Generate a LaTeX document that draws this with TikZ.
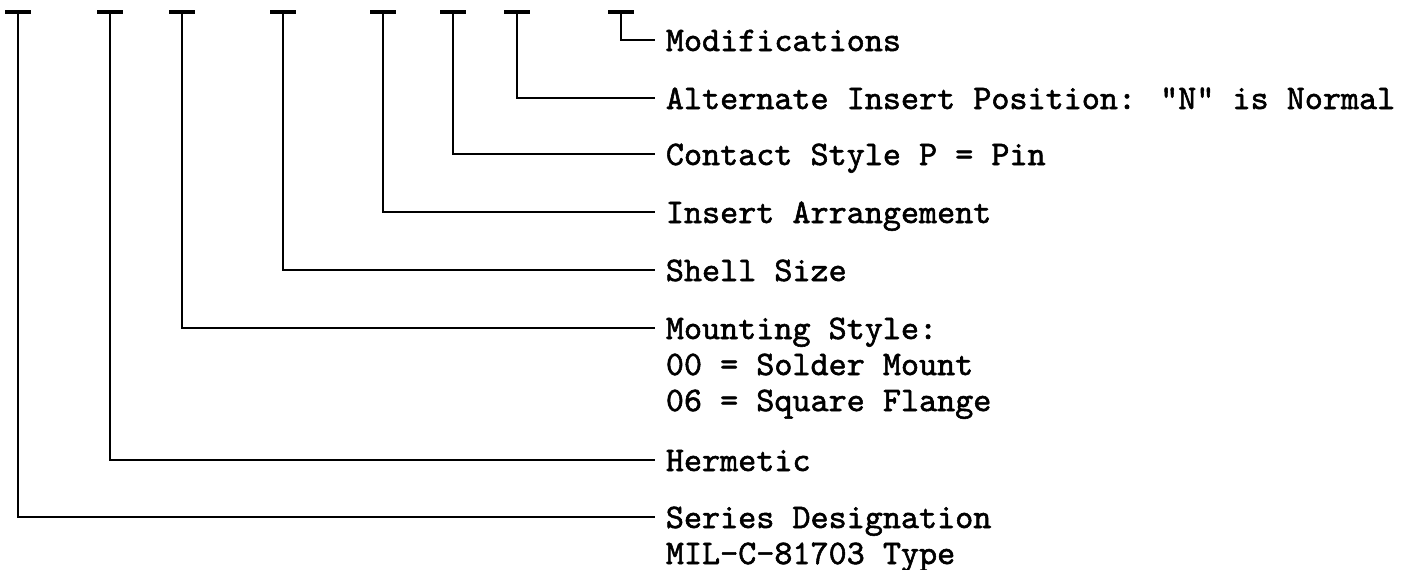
\documentclass[tikz,border=0pt]{standalone}
\usepackage{fontspec}
\usetikzlibrary{calc}
\newfontfamily\codefont[FakeBold=1.6]{lmmono10-regular.otf}
\tikzset{
  tick/.style={line width=2.2pt},
  lead/.style={line width=0.9pt},
  desc/.style={anchor=base west, inner xsep=6pt, inner ysep=0pt,
      font=\codefont\fontsize{19.6}{20.5}\selectfont},
}

\begin{document}
\begin{tikzpicture}[x=0.2mm, y=-0.2mm]
  \useasboundingbox (0,0) rectangle (1404,569);
  % part number fields, text baseline 11px below the lead
  \node[desc] (mod) at (655,51) {Modifications};
  \node[desc] (alt) at (655,109) {Alternate Insert Position: ”N” is Normal};
  \node[desc] (con) at (655,165) {Contact Style P = Pin};
  \node[desc] (ins) at (655,223) {Insert Arrangement};
  \node[desc] (shl) at (655,281) {Shell Size};
  \node[desc] (mnt) at (655,339) {\begin{tabular}[t]{@{}l@{}}Mounting Style:\\00 = Solder Mount\\06 = Square Flange\end{tabular}};
  \node[desc] (her) at (655,471) {Hermetic};
  \node[desc] (ser) at (655,528) {\begin{tabular}[t]{@{}l@{}}Series Designation\\MIL\textendash C\textendash 81703 Type\end{tabular}};
  \foreach \x/\n in {18/ser, 110/her, 182/mnt, 283/shl, 383/ins, 453/con, 517/alt, 621/mod} {
    \draw[tick] (\x-13,12) -- (\x+13,12);
    \draw[lead] (\x,12) |- ($(\n.base west)+(0,-11)$);
  }
\end{tikzpicture}
\end{document}
